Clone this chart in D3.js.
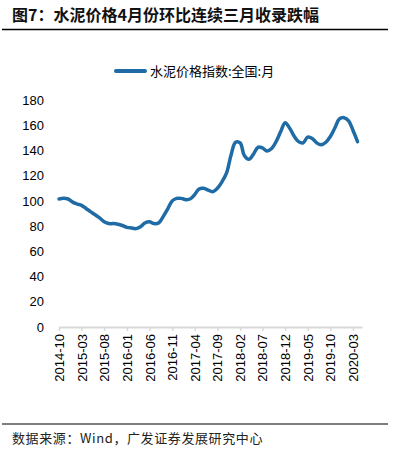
<!DOCTYPE html>
<html><head><meta charset="utf-8">
<script src="https://cdn.jsdelivr.net/npm/d3@7"></script>
<style>body{margin:0;background:#fff}svg{display:block}</style>
</head><body>
<svg id="c" width="395" height="453"></svg>
<script>
const startMonth = "2014-10";
const values = [101.5,102,101.5,99,97.5,96.5,94,91.5,89,86.5,83.5,82,82,81.5,80.5,79,78.5,78,79.5,82.5,83.5,82,82.5,87.5,93.5,100,102,102,101,101.5,105,109.5,110,108.5,107.3,110,115,122,136,146.5,146,136,133,137,142.5,142,139.5,141.5,147,155,162,157.5,151,147,146,150.5,149.5,146,144.5,146.5,151,158,165,166,163.5,156,147];
const tickLabels = ["2014-10","2015-03","2015-08","2016-01","2016-06","2016-11","2017-04","2017-09","2018-02","2018-07","2018-12","2019-05","2019-10","2020-03"];
const yTicks = [0,20,40,60,80,100,120,140,160,180];
const seriesName = "水泥价格指数:全国:月";
const title = "图7：水泥价格4月份环比连续三月收录跌幅";
const source = "数据来源：Wind，广发证券发展研究中心";

const parse = d3.timeParse("%Y-%m");
const t0 = parse(startMonth);
const data = values.map((v,i)=>({date:d3.timeMonth.offset(t0,i), v}));
const svg = d3.select("#c");
const color = "#1F6BA5";

// title
svg.append("text").attr("x",12).attr("y",21).attr("font-family","'Noto Sans CJK SC'")
  .attr("font-size",16).attr("font-weight","bold").attr("fill","#111").text(title);
svg.append("line").attr("x1",2).attr("x2",388).attr("y1",29.5).attr("y2",29.5).attr("stroke","#000").attr("stroke-width",1.5);

const x = d3.scaleTime().domain([t0, d3.timeMonth.offset(t0, values.length)]).range([59, 362]);
const y = d3.scaleLinear().domain([0,180]).range([327,100]);

// y axis labels
const ya = svg.append("g").attr("transform","translate(44,0)")
  .call(d3.axisLeft(y).tickValues(yTicks).tickSize(0).tickPadding(0));
ya.select(".domain").remove();
ya.selectAll("text").attr("font-family","'Liberation Sans',Arial").attr("font-size",13).attr("fill","#000");

// x axis
const xa = svg.append("g").attr("transform","translate(0,327)")
  .call(d3.axisBottom(x).tickValues(tickLabels.map(parse)).tickFormat(d3.timeFormat("%Y-%m")).tickSize(4).tickSizeOuter(0).tickPadding(2));
xa.select(".domain").attr("stroke","#d9d9d9").attr("stroke-width",2);
xa.selectAll(".tick line").attr("stroke","#d9d9d9").attr("stroke-width",1.5);
xa.selectAll("text").attr("font-family","'Liberation Sans',Arial").attr("font-size",13).attr("fill","#000")
  .attr("transform","rotate(-90)").attr("text-anchor","end").attr("dy","0.35em").attr("x",-7).attr("y",0);

// line
const line = d3.line().x(d=>x(d.date)).y(d=>y(d.v)).curve(d3.curveCatmullRom);
svg.append("path").datum(data).attr("d",line).attr("fill","none").attr("stroke",color)
  .attr("stroke-width",3.5).attr("stroke-linejoin","round").attr("stroke-linecap","round");

// legend
svg.append("line").attr("x1",116).attr("x2",145).attr("y1",71).attr("y2",71).attr("stroke",color).attr("stroke-width",4).attr("stroke-linecap","round");
svg.append("text").attr("x",150).attr("y",75.5).attr("font-family","'Noto Sans CJK SC'").attr("font-size",13).attr("fill","#000").text(seriesName);

// footer
svg.append("line").attr("x1",2).attr("x2",388).attr("y1",424).attr("y2",424).attr("stroke","#000").attr("stroke-width",1.2);
svg.append("text").attr("x",12).attr("y",443).attr("font-family","'Noto Sans CJK SC'").attr("font-size",13).attr("letter-spacing",0.6).attr("fill","#222").text(source);
</script>
</body></html>
